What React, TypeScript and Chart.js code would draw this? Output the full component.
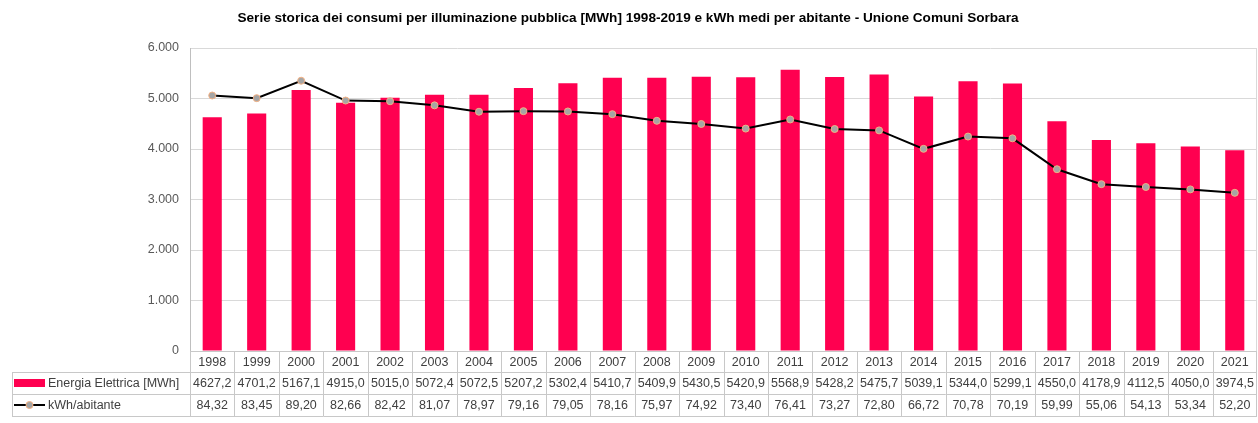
import React, { useEffect, useRef } from "react";
import { Chart, registerables } from "chart.js";

Chart.register(...registerables);

const TITLE =
  "Serie storica dei consumi per illuminazione pubblica [MWh] 1998-2019 e kWh medi per abitante - Unione Comuni Sorbara";

const years = [
  "1998", "1999", "2000", "2001", "2002", "2003", "2004", "2005", "2006", "2007", "2008", "2009",
  "2010", "2011", "2012", "2013", "2014", "2015", "2016", "2017", "2018", "2019", "2020", "2021",
];

const energyLabel = "Energia Elettrica [MWh]";
const energy = [
  4627.2, 4701.2, 5167.1, 4915.0, 5015.0, 5072.4, 5072.5, 5207.2, 5302.4, 5410.7, 5409.9, 5430.5,
  5420.9, 5568.9, 5428.2, 5475.7, 5039.1, 5344.0, 5299.1, 4550.0, 4178.9, 4112.5, 4050.0, 3974.5,
];

const kwhLabel = "kWh/abitante";
const kwh = [
  84.32, 83.45, 89.2, 82.66, 82.42, 81.07, 78.97, 79.16, 79.05, 78.16, 75.97, 74.92,
  73.4, 76.41, 73.27, 72.8, 66.72, 70.78, 70.19, 59.99, 55.06, 54.13, 53.34, 52.2,
];

const yTicks = [0, 1000, 2000, 3000, 4000, 5000, 6000];

const FONT = "'Liberation Sans', Arial, sans-serif";
const BAR_COLOR = "#ff0050";
const GRID = "#d9d9d9";
const TABLE_LINE = "#c8c8c8";
const TEXT = "#404040";

const fmtThousands = (v: number) => {
  const s = Math.round(v).toString();
  return s.replace(/\B(?=(\d{3})+(?!\d))/g, ".");
};

const tablePlugin = {
  id: "dataTable",
  afterDraw(chart: any) {
    const ctx = chart.ctx as CanvasRenderingContext2D;
    const area = chart.chartArea;
    const xs = chart.scales.x;
    const n = years.length;
    const w = (area.right - area.left) / n;
    const r0 = Math.round(area.bottom);
    const r1 = r0 + 21;
    const r2 = r1 + 22;
    const r3 = r2 + 22;
    const leftHdr = 12;
    const right = Math.round(area.right);

    ctx.save();
    // title
    ctx.fillStyle = "#000";
    ctx.font = `bold 13.6px ${FONT}`;
    ctx.textAlign = "center";
    ctx.textBaseline = "middle";
    ctx.fillText(TITLE, chart.width / 2 - 1, 18);

    // right border of plot
    ctx.strokeStyle = GRID;
    ctx.lineWidth = 1;
    ctx.beginPath();
    ctx.moveTo(right - 0.5, Math.round(area.top));
    ctx.lineTo(right - 0.5, r0);
    ctx.stroke();

    // table lines
    ctx.strokeStyle = TABLE_LINE;
    ctx.lineWidth = 1;
    ctx.beginPath();
    ctx.moveTo(area.left, r0 + 0.5);
    ctx.lineTo(right, r0 + 0.5);
    for (const y of [r1, r2, r3]) {
      ctx.moveTo(leftHdr, y + 0.5);
      ctx.lineTo(right, y + 0.5);
    }
    for (let i = 0; i <= n; i++) {
      const x = Math.round(area.left + i * w) + (i === n ? -0.5 : 0.5);
      ctx.moveTo(x, r0);
      ctx.lineTo(x, r3);
    }
    ctx.moveTo(leftHdr + 0.5, r1);
    ctx.lineTo(leftHdr + 0.5, r3);
    ctx.stroke();

    // texts
    ctx.fillStyle = TEXT;
    ctx.font = `12.5px ${FONT}`;
    ctx.textAlign = "center";
    ctx.textBaseline = "middle";
    for (let i = 0; i < n; i++) {
      const cx = xs.getPixelForValue(i);
      ctx.fillText(years[i], cx, (r0 + r1) / 2 + 1);
      ctx.fillText(energy[i].toFixed(1).replace(".", ","), cx, (r1 + r2) / 2 + 1);
      ctx.fillText(kwh[i].toFixed(2).replace(".", ","), cx, (r2 + r3) / 2 + 1);
    }

    // legend keys
    const m1 = (r1 + r2) / 2;
    const m2 = (r2 + r3) / 2;
    ctx.fillStyle = BAR_COLOR;
    ctx.fillRect(14, m1 - 4, 31, 8);
    ctx.strokeStyle = "#000";
    ctx.lineWidth = 2;
    ctx.beginPath();
    ctx.moveTo(14, m2);
    ctx.lineTo(45, m2);
    ctx.stroke();
    ctx.beginPath();
    ctx.arc(29.5, m2, 3.5, 0, Math.PI * 2);
    ctx.fillStyle = "#a5a5a5";
    ctx.fill();
    ctx.lineWidth = 1;
    ctx.strokeStyle = "#f4b183";
    ctx.stroke();

    ctx.fillStyle = TEXT;
    ctx.textAlign = "left";
    ctx.fillText(energyLabel, 48, m1 + 1);
    ctx.fillText(kwhLabel, 48, m2 + 1);
    ctx.restore();
  },
};

export default function App() {
  const ref = useRef<HTMLCanvasElement>(null);

  useEffect(() => {
    document.body.style.margin = "0";
    const canvas = ref.current;
    if (!canvas) return;
    const chart = new Chart(canvas, {
      type: "bar",
      data: {
        labels: years,
        datasets: [
          {
            type: "line",
            label: kwhLabel,
            data: kwh,
            yAxisID: "y2",
            borderColor: "#000000",
            borderWidth: 2,
            pointRadius: 3.5,
            pointBackgroundColor: "#a5a5a5",
            pointBorderColor: "#f4b183",
            pointBorderWidth: 1,
            tension: 0,
            order: 0,
          } as any,
          {
            type: "bar",
            label: energyLabel,
            data: energy,
            yAxisID: "y",
            backgroundColor: BAR_COLOR,
            categoryPercentage: 1,
            barPercentage: 0.43,
            order: 1,
          },
        ],
      },
      options: {
        animation: false,
        responsive: false,
        maintainAspectRatio: false,
        devicePixelRatio: 1,
        layout: { autoPadding: false, padding: { left: 0, right: 1, top: 48, bottom: 72 } },
        plugins: {
          legend: { display: false },
          title: { display: false },
          tooltip: { enabled: false },
        },
        scales: {
          x: { display: false },
          y: {
            min: 0,
            max: 6000,
            afterFit: (s: any) => {
              s.width = 190;
            },
            afterBuildTicks: (s: any) => {
              s.ticks = yTicks.map((v) => ({ value: v }));
            },
            ticks: {
              padding: 11,
              color: "#595959",
              font: { family: FONT, size: 12.5 },
              callback: (v: any) => fmtThousands(Number(v)),
            },
            grid: { color: GRID, drawTicks: false },
            border: { display: true, color: "#bfbfbf" },
          },
          y2: { display: false, min: 0, max: 100 },
        },
      },
      plugins: [tablePlugin],
    });
    return () => chart.destroy();
  }, []);

  return (
    <div style={{ position: "absolute", left: 0, top: 0, width: 1258, height: 423, background: "#fff" }}>
      <canvas ref={ref} width={1258} height={423} style={{ width: 1258, height: 423 }} />
    </div>
  );
}
